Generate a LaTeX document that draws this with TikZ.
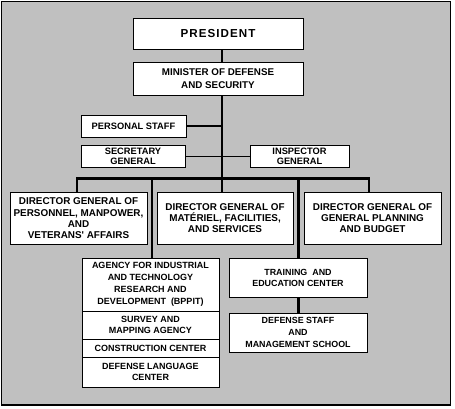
\documentclass[tikz,border=0pt]{standalone}
\usepackage{fontspec}
\setmainfont{Liberation Sans}[Ligatures=TeXOff]
\newfontfamily\presfont[LetterSpace=9]{Liberation Sans}
\definecolor{bggray}{HTML}{C0C0C0}
\newcommand{\fs}[2]{\fontsize{#1}{#2}\selectfont\bfseries}
\tikzset{
  box/.style={draw=black, fill=white, line width=1pt, inner sep=0pt, align=center, minimum width=#1},
  conn/.style={draw=black, line width=2.6pt, line join=miter},
  thinconn/.style={draw=black, line width=1pt}
}
\begin{document}
\begin{tikzpicture}[x=1pt,y=-1pt]
\useasboundingbox (0,0) rectangle (455,408);
\draw[fill=bggray, line width=1.5pt] (1.5,1.5) rectangle (450.5,405);

\node[box=170, minimum height=31, font=\presfont\fs{11.6}{13}] (pres) at (218,33.5) {PRESIDENT};
\node[box=170, minimum height=33, font=\fs{9.8}{13.3}] (min) at (218,78.5) {MINISTER OF DEFENSE\\AND SECURITY};
\node[box=105, minimum height=22, font=\fs{9.3}{11}] (pers) at (133.5,126) {PERSONAL STAFF};
\node[box=104, minimum height=22, font=\fs{9.3}{10.2}] (sec) at (133,156) {SECRETARY\\GENERAL};
\node[box=99, minimum height=22, font=\fs{9.3}{10.2}] (insp) at (299.5,156) {INSPECTOR\\GENERAL};

\node[box=137, minimum height=52.5, font=\fs{9.9}{11.3}] (d1) at (78.5,218.25) {DIRECTOR GENERAL OF\\PERSONNEL, MANPOWER,\\AND\\VETERANS' AFFAIRS};
\node[box=136, minimum height=52.5, font=\fs{9.9}{11.3}] (d2) at (225,218.25) {DIRECTOR GENERAL OF\\MATÉRIEL, FACILITIES,\\AND SERVICES};
\node[box=137, minimum height=52.5, font=\fs{9.9}{11.3}] (d3) at (372.5,218.25) {DIRECTOR GENERAL OF\\GENERAL PLANNING\\AND BUDGET};

\node[box=137, minimum height=53, font=\fs{9}{12}] (a1) at (150.5,284.5) {AGENCY FOR INDUSTRIAL\\AND TECHNOLOGY\\RESEARCH AND\\DEVELOPMENT\ \ (BPPIT)};
\node[box=137, minimum height=28, font=\fs{9}{11.5}] (a2) at (150.5,325) {SURVEY AND\\MAPPING AGENCY};
\node[box=137, minimum height=18, font=\fs{9}{11}] (a3) at (150.5,348) {CONSTRUCTION CENTER};
\node[box=137, minimum height=30, font=\fs{9}{11.5}] (a4) at (150.5,372) {DEFENSE LANGUAGE\\CENTER};

\node[box=138, minimum height=39, font=\fs{8.9}{11}] (tr) at (298,277.5) {TRAINING\ \ AND\\EDUCATION CENTER};
\node[box=138, minimum height=39, font=\fs{8.9}{12}] (ds) at (298,332.5) {DEFENSE STAFF\\AND\\MANAGEMENT SCHOOL};

\coordinate (j1) at (222,178.5);
\coordinate (bL) at (77,178.5);
\coordinate (bR) at (369,178.5);
\coordinate (bA) at (152,178.5);
\coordinate (bB) at (298.5,178.5);

\draw[conn] (pres.south -| j1) -- (min.north -| j1);
\draw[conn] (min.south -| j1) -- (j1);
\draw[conn] (pers.east) -- (pers.east -| j1);
\draw[thinconn] (sec.east) -- (insp.west);
\draw[conn] (d1.north -| bL) -- (bL) -- (bR) -- (d3.north -| bR);
\draw[conn] (j1) -- (d2.north -| j1);
\draw[conn] (bA) -- (a1.north -| bA);
\draw[conn] (bB) -- (tr.north -| bB);
\draw[conn] (tr.south -| bB) -- (ds.north -| bB);
\end{tikzpicture}
\end{document}
